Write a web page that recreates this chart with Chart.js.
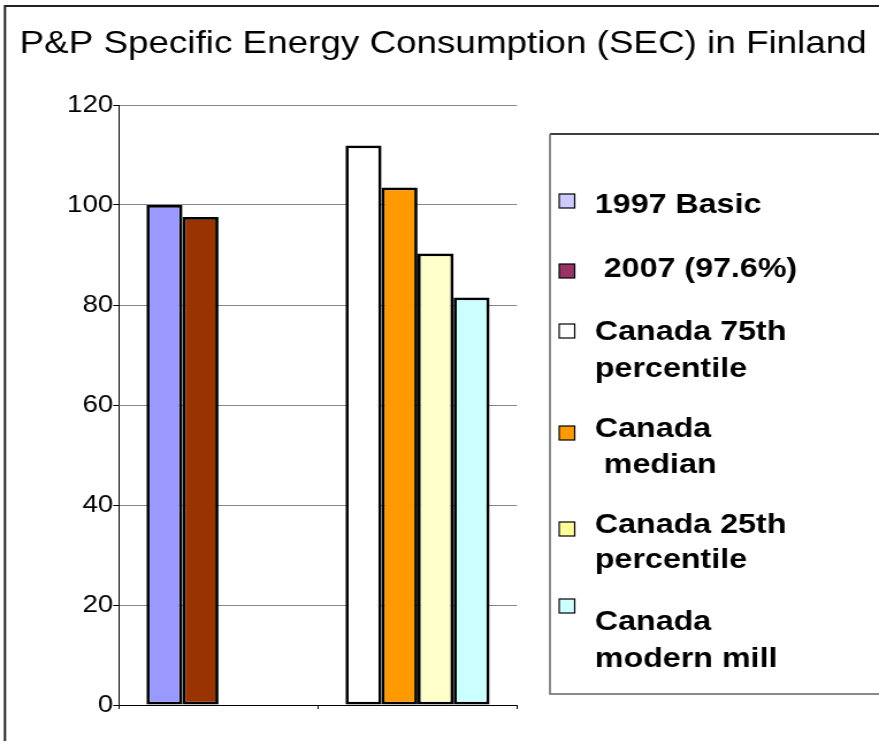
<!DOCTYPE html>
<html>
<head>
<meta charset="utf-8">
<script src="https://cdn.jsdelivr.net/npm/chart.js@4"></script>
<style>
  html, body { margin: 0; padding: 0; background: #fff; }
  #secChart { display: block; }
</style>
</head>
<body>
<!-- the source picture is stretched sideways, so the canvas is too -->
<canvas id="secChart" width="764" height="741" style="width:879px;height:741px"></canvas>
<script>
// Data
const categories = ["Finland", "Canada"];
const finlandSec = [100, 97.6]; // 1997 Basic, 2007
const canadaSec = [111.9, 103.5, 90.3, 81.5]; // 75th, median, 25th, modern mill
const yTicks = [0, 20, 40, 60, 80, 100, 120];

const finlandColors = ["#9999FF", "#993300"];
const canadaColors = ["#FFFFFF", "#FF9900", "#FFFFCC", "#CCFFFF"];

const legendLabels = [
  ["1997 Basic"],
  [" 2007 (97.6%)"],
  ["Canada 75th", "percentile"],
  ["Canada", " median"],
  ["Canada 25th", "percentile"],
  ["Canada", "modern mill"],
];
const legendColors = ["#CCCCFF", "#993366", "#FFFFFF", "#FF9900", "#FFFF99", "#CCFFFF"];

// one dataset per bar slot, Finland only fills the first two
const datasets = canadaSec.map((v, i) => ({
  label: "slot " + (i + 1),
  data: [i < finlandSec.length ? finlandSec[i] : null, v],
  backgroundColor: [finlandColors[i] || "#fff", canadaColors[i]],
  borderColor: "#000",
  borderWidth: 2.8,
  borderSkipped: false,
  yAxisID: "y",
}));

const FONT = "'Liberation Sans', Arial, sans-serif";
Chart.defaults.font.family = FONT;
Chart.defaults.color = "#000";

// legend rows: swatch top and text baselines (px)
const legendRows = [
  { box: 194, lines: [213] },
  { box: 264, lines: [277] },
  { box: 324, lines: [340, 377] },
  { box: 426, lines: [437, 473] },
  { box: 522, lines: [533, 568] },
  { box: 599, lines: [630, 667] },
];

const framePlugin = {
  id: "frame",
  afterDraw(chart) {
    const ctx = chart.ctx;
    ctx.save();
    // outer frame
    ctx.strokeStyle = "#222";
    ctx.lineWidth = 2;
    ctx.beginPath();
    ctx.moveTo(4.3, 745);
    ctx.lineTo(4.3, 6);
    ctx.lineTo(770, 6);
    ctx.stroke();

    // legend box
    const bx = 478, top = 134, bottom = 694;
    ctx.lineWidth = 1.5;
    ctx.strokeStyle = "#000";
    ctx.beginPath();
    ctx.moveTo(bx, top);
    ctx.lineTo(770, top);
    ctx.stroke();
    ctx.strokeStyle = "#666";
    ctx.beginPath();
    ctx.moveTo(bx, top);
    ctx.lineTo(bx, bottom);
    ctx.lineTo(770, bottom);
    ctx.stroke();

    // legend entries
    ctx.font = "bold 28px " + FONT;
    ctx.textBaseline = "alphabetic";
    legendLabels.forEach((lines, i) => {
      const row = legendRows[i];
      ctx.fillStyle = legendColors[i];
      ctx.fillRect(486, row.box, 13.5, 14);
      ctx.strokeStyle = "#000";
      ctx.lineWidth = 1.2;
      ctx.strokeRect(486, row.box, 13.5, 14);
      ctx.fillStyle = "#000";
      lines.forEach((t, j) => ctx.fillText(t, 517, row.lines[j]));
    });
    ctx.restore();
  },
};

const secCtx = document.getElementById("secChart").getContext("2d");
const secChart = new Chart(secCtx, {
  type: "bar",
  data: {
    labels: categories,
    datasets: datasets,
  },
  options: {
    responsive: false,
    animation: false,
    layout: {
      padding: { left: 17, right: 0, top: 0, bottom: 0 },
    },
    datasets: {
      bar: {
        categoryPercentage: 0.724,
        barPercentage: 1,
      },
    },
    plugins: {
      legend: { display: false },
      tooltip: { enabled: false },
      title: {
        display: true,
        text: "P&P Specific Energy Consumption (SEC) in Finland",
        align: "start",
        color: "#000",
        font: { size: 32, weight: "normal" },
        padding: { top: 24.7, bottom: 41.9 },
      },
    },
    scales: {
      x: {
        ticks: { display: false },
        grid: {
          offset: true,
          color: (c) => (c.index === categories.length ? "#888" : "rgba(0,0,0,0)"),
          tickColor: "#000",
          tickLength: 4,
        },
        border: { color: "#000", width: 1 },
        afterFit: (scale) => {
          scale.height = 36;
        },
      },
      y: {
        min: yTicks[0],
        max: yTicks[yTicks.length - 1],
        ticks: {
          stepSize: yTicks[1] - yTicks[0],
          padding: 0,
          font: { size: 24 },
          color: "#000",
        },
        grid: {
          color: "#888",
          tickColor: "#000",
          tickLength: 5,
        },
        border: { color: "#000", width: 1 },
        afterFit: (scale) => {
          scale.width = 86.4;
        },
      },
      // empty right-hand axis that only reserves room for the legend box
      legendSpace: {
        type: "linear",
        position: "right",
        ticks: { display: false },
        grid: { display: false },
        border: { display: false },
        afterFit: (scale) => {
          scale.width = 314.6;
        },
      },
    },
  },
  plugins: [framePlugin],
});
</script>
</body>
</html>
